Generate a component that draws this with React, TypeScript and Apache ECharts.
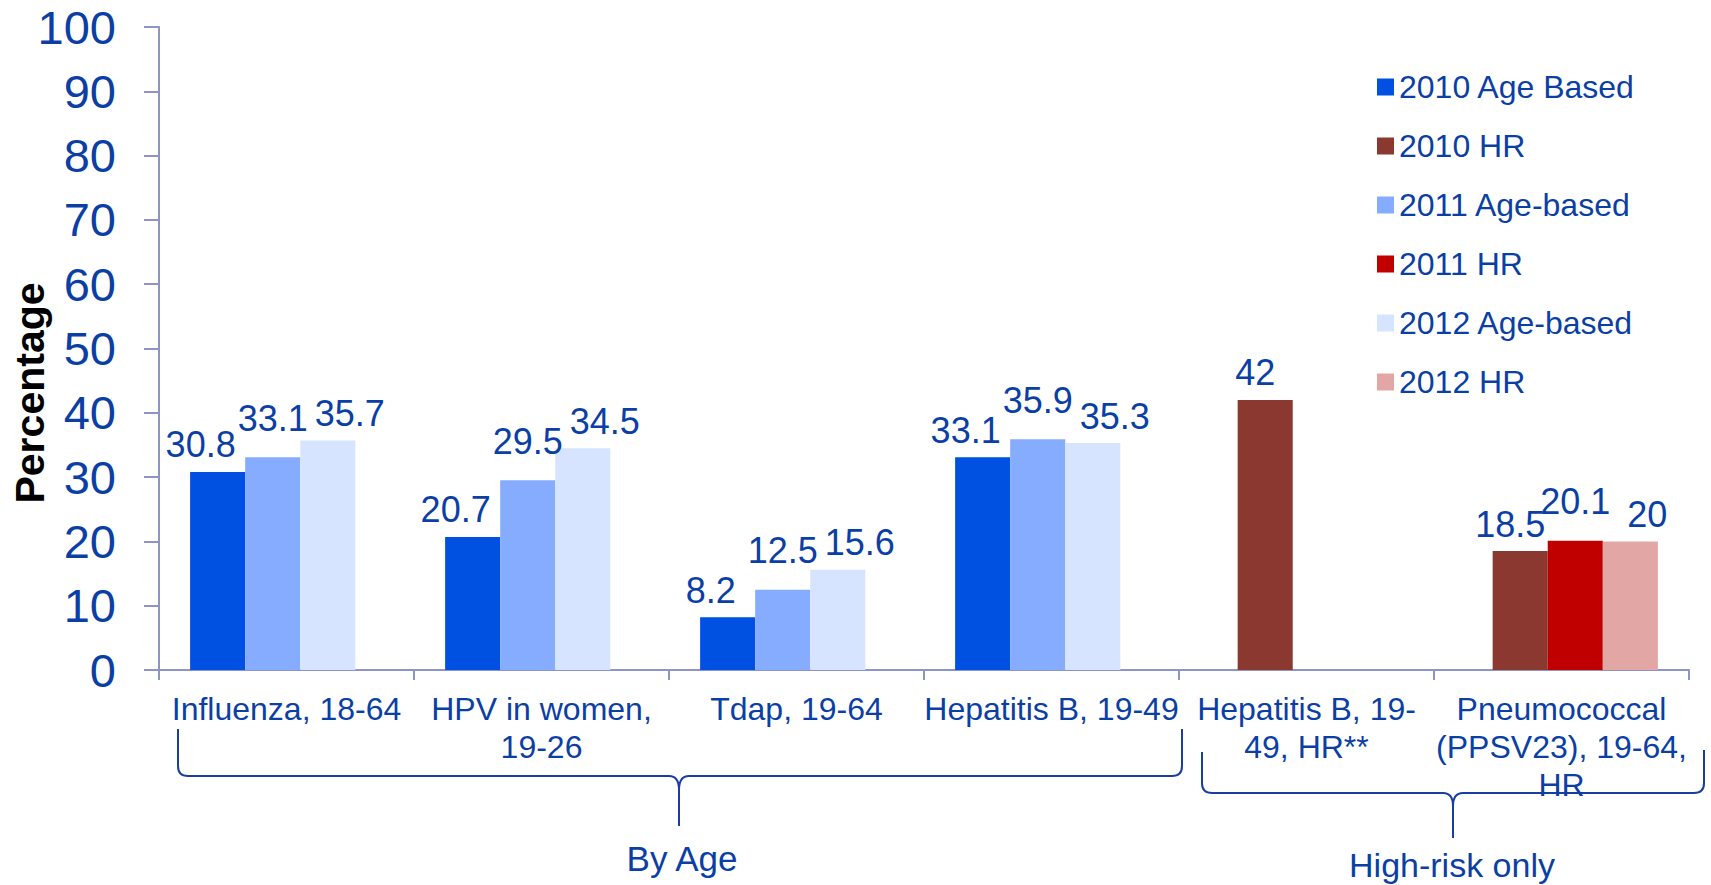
import React, { useEffect, useRef } from "react";
import * as echarts from "echarts";

const categories = [
  "Influenza, 18-64",
  "HPV in women,\n19-26",
  "Tdap, 19-64",
  "Hepatitis B, 19-49",
  "Hepatitis B, 19-\n49, HR**",
  "Pneumococcal\n(PPSV23), 19-64,\nHR",
];

const seriesNames = [
  "2010 Age Based",
  "2010 HR",
  "2011 Age-based",
  "2011 HR",
  "2012 Age-based",
  "2012 HR",
];

const v2010Age = [30.8, 20.7, 8.2, 33.1, null, null];
const v2010HR = [null, null, null, null, 42, 18.5];
const v2011Age = [33.1, 29.5, 12.5, 35.9, null, null];
const v2011HR = [null, null, null, null, null, 20.1];
const v2012Age = [35.7, 34.5, 15.6, 35.3, null, null];
const v2012HR = [null, null, null, null, null, 20];

const yTicks = { min: 0, max: 100, interval: 10 };

const BLUE_TEXT = "#0b3fa6";
const AXIS_COLOR = "#8e95c6";
const FONT = '"Liberation Sans", Arial, sans-serif';

const colors = ["#0050e2", "#8a3830", "#85acff", "#c00000", "#d7e4ff", "#e2a6a5"];
const labelOffsets: [number, number][] = [
  [-17, 0],
  [-10, 0],
  [0, -12],
  [0, -12],
  [22, 0],
  [17, 0],
];

const braceByAge =
  "M178,729 L178,766 Q178,776 188,776 L669,776 Q679,776 679,790 L679,826 M679,790 Q679,776 689,776 L1172,776 Q1182,776 1182,766 L1182,729";
const braceHighRisk =
  "M1202,752 L1202,783 Q1202,793 1212,793 L1443,793 Q1453,793 1453,806 L1453,838 M1453,806 Q1453,793 1463,793 L1694,793 Q1704,793 1704,783 L1704,750";

export default function App() {
  const ref = useRef<HTMLDivElement>(null);
  useEffect(() => {
    document.body.style.margin = "0";
    if (!ref.current) return;
    echarts.graphic.registerShape("braceByAge", echarts.graphic.extendPath(braceByAge, {}));
    echarts.graphic.registerShape("braceHighRisk", echarts.graphic.extendPath(braceHighRisk, {}));
    const chart = echarts.init(ref.current, undefined, { renderer: "svg" });
    const allValues = [v2010Age, v2010HR, v2011Age, v2011HR, v2012Age, v2012HR];
    const series = seriesNames.map((name, i) => ({
      name,
      type: "bar",
      data: allValues[i],
      barWidth: "21.6%",
      barGap: "-50%",
      itemStyle: { color: colors[i] },
      label: {
        show: true,
        position: "top",
        distance: 9,
        offset: labelOffsets[i],
        color: BLUE_TEXT,
        fontSize: 36,
        fontFamily: FONT,
        formatter: "{c}",
      },
    }));
    const textStyle = (size: number, weight = "normal", color = BLUE_TEXT) => ({
      text: "",
      fontSize: size,
      fontWeight: weight,
      fontFamily: FONT,
      fill: color,
      align: "center",
      verticalAlign: "middle",
      textAlign: "center",
    });
    chart.setOption({
      animation: false,
      backgroundColor: "#ffffff",
      grid: { left: 159, right: 22, top: 27, bottom: 215, containLabel: false },
      legend: {
        orient: "vertical",
        left: 1377,
        top: 70,
        padding: 0,
        itemWidth: 17,
        itemHeight: 17,
        itemGap: 25,
        icon: "rect",
        selectedMode: false,
        data: seriesNames,
        textStyle: { color: BLUE_TEXT, fontSize: 32, lineHeight: 34, fontFamily: FONT },
      },
      xAxis: {
        type: "category",
        data: categories,
        axisLine: { lineStyle: { color: AXIS_COLOR, width: 2 } },
        axisTick: { show: true, length: 10, lineStyle: { color: AXIS_COLOR, width: 2 } },
        axisLabel: {
          interval: 0,
          color: BLUE_TEXT,
          fontSize: 32,
          lineHeight: 38,
          margin: 20,
          fontFamily: FONT,
        },
        splitLine: { show: false },
      },
      yAxis: {
        type: "value",
        min: yTicks.min,
        max: yTicks.max,
        interval: yTicks.interval,
        axisLine: { show: true, lineStyle: { color: AXIS_COLOR, width: 2 } },
        axisTick: { show: true, length: 15, lineStyle: { color: AXIS_COLOR, width: 2 } },
        axisLabel: { color: BLUE_TEXT, fontSize: 47, margin: 43, fontFamily: FONT },
        splitLine: { show: false },
      },
      graphic: [
        {
          type: "braceByAge",
          x: 0,
          y: 0,
          style: { fill: "none", stroke: "#1a3e9f", lineWidth: 2 },
        },
        {
          type: "braceHighRisk",
          x: 0,
          y: 0,
          style: { fill: "none", stroke: "#1a3e9f", lineWidth: 2 },
        },
        {
          type: "text",
          x: 682,
          y: 858,
          style: { ...textStyle(35), text: "By Age" },
        },
        {
          type: "text",
          x: 1452,
          y: 865,
          style: { ...textStyle(34), text: "High-risk only" },
        },
        {
          type: "text",
          x: 30,
          y: 393,
          rotation: Math.PI / 2,
          style: { ...textStyle(41, "bold", "#000000"), text: "Percentage" },
        },
      ],
      series,
    });
    return () => chart.dispose();
  }, []);
  return (
    <div
      ref={ref}
      style={{ position: "fixed", left: 0, top: 0, width: 1711, height: 885, overflow: "hidden" }}
    />
  );
}
